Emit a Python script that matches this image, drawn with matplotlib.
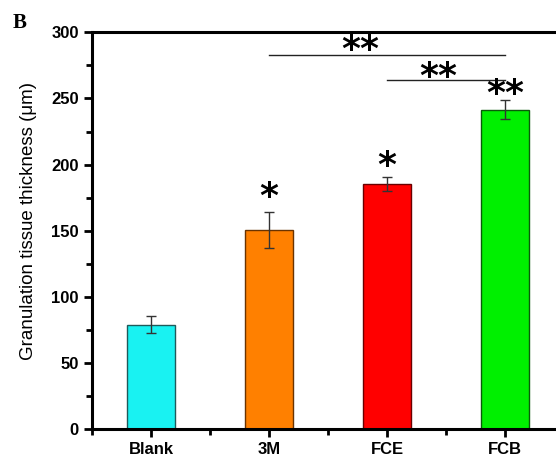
import numpy as np
import matplotlib
matplotlib.use("Agg")
import matplotlib.pyplot as plt
from matplotlib.ticker import MultipleLocator, FixedLocator

groups = ["Blank", "3M", "FCE", "FCB"]
thickness = [79, 150.5, 185.6, 241.5]
err = [6.3, 13.7, 5.3, 7.0]
colors = ["#19F2F2", "#FF8000", "#FF0000", "#00F000"]
edges = ["#1F5A5A", "#6A3300", "#6A0000", "#0A5A0A"]

# significance: stars above bars (gap above error bar), bracket lines between groups
single_marks = [(1, "*", 14.4), (2, "*", 11.3), (3, "**", 8.4)]
brackets = [(1, 3, 282.6), (2, 3, 263.9)]
bracket_marks = [(1.77, "**", 289.7), (2.43, "**", 269.5)]

plt.rcParams['font.family'] = ['Liberation Sans', 'DejaVu Sans']

fig = plt.figure(figsize=(5.56, 4.63), dpi=100)
ax = fig.add_axes([0.1655, 0.0728, 0.9126, 0.8575])

x = np.arange(len(groups))
ax.bar(x, thickness, width=0.4, color=colors, edgecolor=edges, linewidth=1.0, zorder=2)
ax.errorbar(x, thickness, yerr=err, fmt='none', ecolor='#333333', elinewidth=1.0,
            capsize=3.5, capthick=1.0, zorder=3)

ax.set_xlim(-0.5, 3.8)
ax.set_ylim(0, 300)
ax.set_xticks(x)
ax.set_xticklabels(groups, fontsize=12, fontweight='bold')
ax.xaxis.set_minor_locator(FixedLocator([-0.5, 0.5, 1.5, 2.5]))
ax.yaxis.set_major_locator(MultipleLocator(50))
ax.yaxis.set_minor_locator(MultipleLocator(25))
for lab in ax.get_yticklabels():
    lab.set_fontsize(12)
    lab.set_fontweight('bold')

ax.tick_params(axis='both', which='major', direction='out', length=6, width=2)
ax.tick_params(axis='both', which='minor', direction='out', length=4, width=2)
ax.tick_params(top=False, right=False)
for s in ax.spines.values():
    s.set_linewidth(2.2)

ax.set_ylabel("Granulation tissue thickness (\u03bcm)", fontsize=13.5)
ax.yaxis.set_label_coords(-0.108, 0.525)

STAR_FS = 26


def star(xc, yc, s):
    # place the glyph so its ink centre sits at (xc, yc)
    ax.annotate(s, (xc, yc), xytext=(0, -0.40 * STAR_FS), textcoords='offset points',
                fontsize=STAR_FS, ha='center', va='baseline',
                family='DejaVu Sans', fontweight='bold', annotation_clip=False)


for i, s, gap in single_marks:
    star(x[i], thickness[i] + err[i] + gap, s)

for a, b, h in brackets:
    ax.plot([x[a], x[b]], [h, h], color='#222222', lw=1.0, clip_on=False)
for xc, s, yc in bracket_marks:
    star(xc, yc, s)

fig.text(0.023, 0.94, "B", fontsize=15, fontweight='bold', family='Liberation Serif')

fig.savefig("out.png", dpi=100)
